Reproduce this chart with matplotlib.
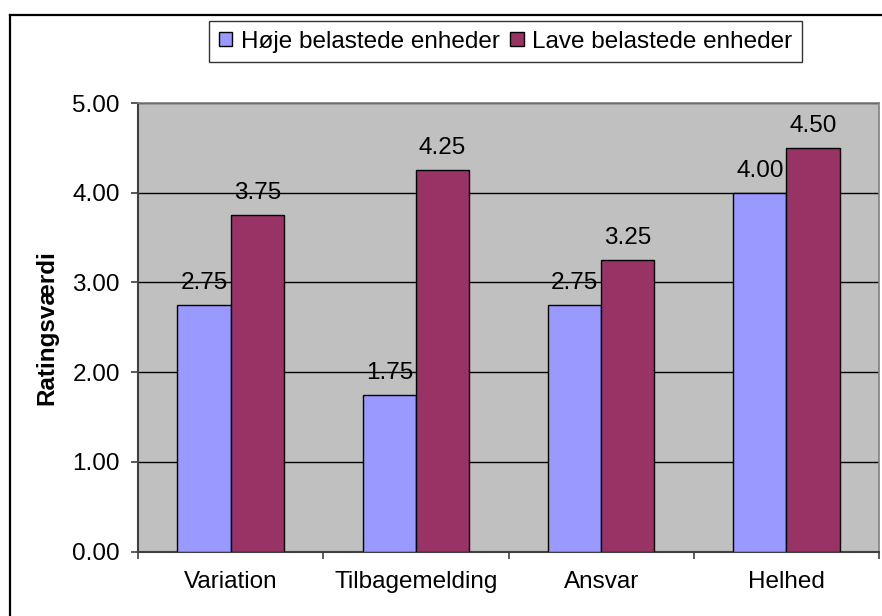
import matplotlib.pyplot as plt
import numpy as np
from matplotlib.lines import Line2D

plt.rcParams['font.family'] = ['Liberation Sans', 'DejaVu Sans']

categories = ["Variation", "Tilbagemelding", "Ansvar", "Helhed"]
hoje = [2.75, 1.75, 2.75, 4.00]
lave = [3.75, 4.25, 3.25, 4.50]
series_names = ["Høje belastede enheder", "Lave belastede enheder"]

fs = 17.5
fig = plt.figure(figsize=(8.82, 6.16), dpi=100)
ax = fig.add_axes([138 / 882, 1 - 551.7 / 616, 741 / 882, 448.7 / 616])
ax.set_facecolor('#C0C0C0')

x = np.arange(len(categories))
w = 0.287
b1 = ax.bar(x - w / 2, hoje, w, color='#9999FF', edgecolor='black', linewidth=1.0,
            label=series_names[0], zorder=3)
b2 = ax.bar(x + w / 2, lave, w, color='#993366', edgecolor='black', linewidth=1.0,
            label=series_names[1], zorder=3)
ax.bar_label(b1, fmt='%.2f', padding=8, fontsize=fs)
ax.bar_label(b2, fmt='%.2f', padding=8, fontsize=fs)

ax.set_xlim(-0.5, len(categories) - 0.5)
ax.set_ylim(0, 5)
ax.set_yticks(np.arange(0, 5.01, 1))
ax.set_yticklabels([f"{v:.2f}" for v in np.arange(0, 5.01, 1)], fontsize=fs)
ax.yaxis.grid(True, color='black', linewidth=1.0, zorder=1)
ax.set_axisbelow(True)

ax.set_xticks(x)
ax.set_xticklabels(categories, fontsize=fs)
ax.set_xticks(np.arange(-0.5, len(categories), 1), minor=True)
ax.tick_params(axis='x', which='major', length=0, pad=14)
ax.tick_params(axis='x', which='minor', length=5, width=1.2, color='#404040')
ax.tick_params(axis='y', length=5, width=1.2, color='#404040', pad=8)

for side in ['top', 'right']:
    ax.spines[side].set_color('#808080')
    ax.spines[side].set_linewidth(1.2)
for side in ['left', 'bottom']:
    ax.spines[side].set_color('#404040')
    ax.spines[side].set_linewidth(1.5)

ax.set_ylabel("Ratingsværdi", fontsize=fs, fontweight='bold')
ax.yaxis.set_label_coords(-0.107, 0.5)

leg = fig.legend(loc='upper left', bbox_to_anchor=(209 / 882, 1 - 21 / 616), ncol=2,
                 fontsize=fs, frameon=True, fancybox=False, shadow=False,
                 handlelength=0.55, handleheight=0.55, handletextpad=0.35,
                 columnspacing=0.45, borderpad=0.4, borderaxespad=0)
leg.get_frame().set_edgecolor('black')
leg.get_frame().set_linewidth(1.0)

# outer chart frame (top and left edges)
fig.add_artist(Line2D([10 / 882, 1], [1 - 15 / 616, 1 - 15 / 616], color='black',
                      linewidth=1.6, transform=fig.transFigure))
fig.add_artist(Line2D([10 / 882, 10 / 882], [0, 1 - 15 / 616], color='black',
                      linewidth=1.6, transform=fig.transFigure))

fig.savefig('out.png', dpi=100)
